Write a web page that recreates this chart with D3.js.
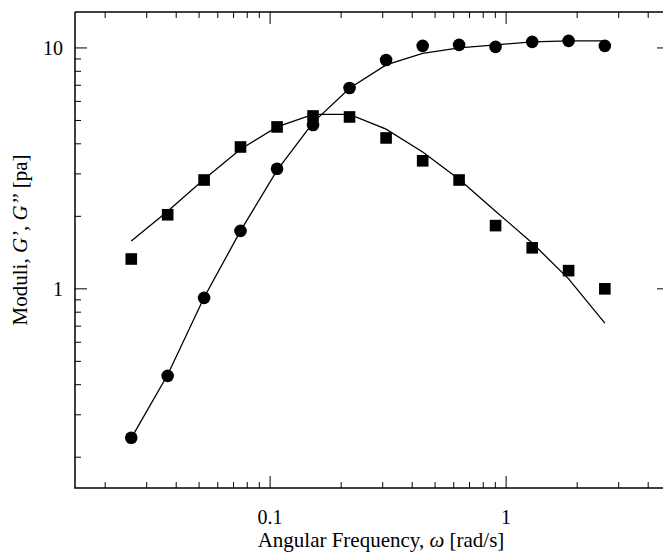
<!DOCTYPE html>
<html><head><meta charset="utf-8">
<script src="https://cdn.jsdelivr.net/npm/d3@7"></script>
<style>body{margin:0;background:#fff;overflow:hidden}svg text{font-family:'Liberation Serif','Tinos','Times New Roman','DejaVu Serif',serif}</style>
</head><body><svg id="c" width="663" height="552"></svg>
<script>
const omega = [0.0258,0.0368,0.0525,0.0749,0.107,0.152,0.217,0.310,0.443,0.632,0.902,1.29,1.84,2.62];
const gStorage = [0.241,0.435,0.917,1.74,3.15,4.79,6.82,8.91,10.2,10.3,10.1,10.6,10.7,10.2];
const gLoss = [1.33,2.03,2.83,3.88,4.70,5.22,5.17,4.23,3.40,2.83,1.83,1.48,1.19,1.0];
const fitStorage = [0.24,0.44,0.92,1.74,3.1,4.9,6.8,8.5,9.5,10.0,10.3,10.6,10.7,10.7];
const fitLoss = [1.58,2.1,2.85,3.8,4.7,5.3,5.3,4.6,3.7,2.85,2.1,1.55,1.1,0.72];
const xLabels = [0.1,1];
const yLabels = [1,10];

const m = {left:75, top:12, right:669, bottom:488};
const svg = d3.select("#c");
const x = d3.scaleLog().domain([0.0149,4.9]).range([m.left,m.right]);
const y = d3.scaleLog().domain([0.149,14.1]).range([m.bottom,m.top]);

// frame
svg.append("path").attr("d",`M${m.left},${m.top}H${m.right}V${m.bottom}M${m.left},${m.top}V${m.bottom}H${m.right}`)
  .attr("fill","none").attr("stroke","#000").attr("stroke-width",1.5);

// ticks (inside)
const xt = [];
for (let e=-2;e<=0;e++) for (let k=1;k<10;k++){const v=k*10**e; if(v>x.domain()[0]&&v<x.domain()[1]) xt.push(v);}
const yt = [];
for (let e=-1;e<=1;e++) for (let k=1;k<10;k++){const v=k*10**e; if(v>y.domain()[0]&&v<y.domain()[1]) yt.push(v);}
xt.forEach(v=>{const big=xLabels.includes(v)?12:6;
  [m.bottom,m.top].forEach((p,i)=>svg.append("line").attr("x1",x(v)).attr("x2",x(v))
    .attr("y1",p).attr("y2",i?p+big:p-big).attr("stroke","#000"));});
yt.forEach(v=>{const big=yLabels.includes(v)?12:6;
  svg.append("line").attr("x1",m.left).attr("x2",m.left+big).attr("y1",y(v)).attr("y2",y(v)).attr("stroke","#000");
  svg.append("line").attr("x1",m.right).attr("x2",m.right-big).attr("y1",y(v)).attr("y2",y(v)).attr("stroke","#000");});
xLabels.forEach(v=>svg.append("text").attr("x",x(v)).attr("y",m.bottom+36).attr("text-anchor","middle")
  .attr("font-size",20).text(v));
yLabels.forEach(v=>svg.append("text").attr("x",m.left-12).attr("y",y(v)+7).attr("text-anchor","end")
  .attr("font-size",20).text(v));

// axis titles
svg.append("text").attr("x",381).attr("y",547).attr("text-anchor","middle").attr("font-size",21)
  .html('Angular Frequency, <tspan font-style="italic">ω</tspan> [rad/s]');
svg.append("text").attr("transform",`translate(27,240) rotate(-90)`).attr("text-anchor","middle").attr("font-size",21)
  .html('Moduli, <tspan font-style="italic">G’</tspan>, <tspan font-style="italic">G’’</tspan> [pa]');

// fit lines
const line = d3.line().x(d=>x(d[0])).y(d=>y(d[1]));
[fitStorage,fitLoss].forEach(f=>svg.append("path").attr("d",line(omega.map((w,i)=>[w,f[i]])))
  .attr("fill","none").attr("stroke","#000").attr("stroke-width",1.3));

// markers
svg.selectAll(".gs").data(omega).join("circle").attr("cx",d=>x(d)).attr("cy",(d,i)=>y(gStorage[i])).attr("r",6.3);
svg.selectAll(".gl").data(omega).join("rect").attr("x",d=>x(d)-5.8).attr("y",(d,i)=>y(gLoss[i])-5.8)
  .attr("width",11.6).attr("height",11.6);
</script></body></html>
